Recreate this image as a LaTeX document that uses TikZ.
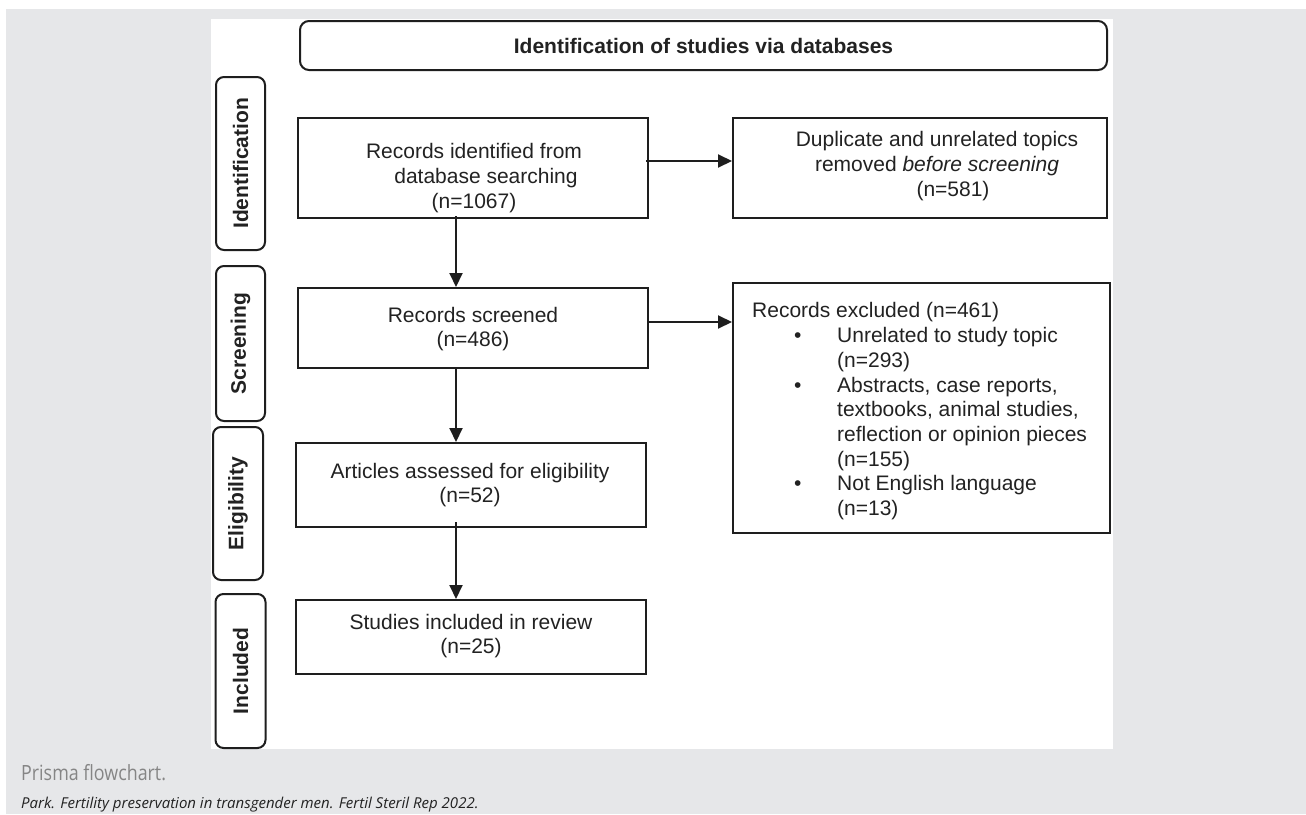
\documentclass[tikz,border=0pt]{standalone}
\usepackage{fontspec}
\setmainfont{Liberation Sans}
\newfontfamily\capfont[FakeStretch=0.85]{Open Sans}
\newfontfamily\capfontit{Open Sans}
\usetikzlibrary{arrows.meta}
\definecolor{bgc}{HTML}{E6E7E9}
\definecolor{linec}{HTML}{1E1E1E}
\definecolor{textc}{HTML}{222222}
\definecolor{capgray}{HTML}{858585}
\newcommand\pbul{\makebox[85pt][l]{\hspace{42pt}\textbullet}}
\newcommand\pind{\hspace*{85pt}}
\tikzset{
  stepbox/.style={draw=linec, line width=2pt, inner sep=0pt},
  sidebox/.style={draw=linec, line width=2pt, rounded corners=8pt, inner sep=0pt,
    font=\bfseries\fontsize{21}{24}\selectfont, text=textc},
  body/.style={font=\fontsize{21}{24.7}\selectfont, align=center, text=textc, inner sep=0pt},
  arr/.style={draw=linec, line width=2pt, -{Triangle[length=14pt,width=13pt]}}
}
\begin{document}
\begin{tikzpicture}[x=1pt,y=-1pt]
\useasboundingbox (0,0) rectangle (1306,814);
% background
\fill[white] (0,0) rectangle (1306,814);
\fill[bgc] (6,9) rectangle (1306,814);
\fill[white] (211,19) rectangle (1113,749);
% title
\node[sidebox, rounded corners=9pt, minimum width=807pt, minimum height=49pt] (T) at (703.5,45.5) {Identification of studies via databases};
% side labels
\node[sidebox, minimum width=49pt, minimum height=173pt] (SI) at (240.5,163.5) {\rotatebox{90}{Identification}};
\node[sidebox, minimum width=49pt, minimum height=155pt] (SS) at (240.5,343.5) {\rotatebox{90}{Screening}};
\node[sidebox, minimum width=50pt, minimum height=153pt] (SE) at (238,503.5) {\rotatebox{90}{Eligibility}};
\node[sidebox, minimum width=50pt, minimum height=154pt] (SN) at (240.5,671) {\rotatebox{90}{Included}};
% boxes
\node[stepbox, minimum width=350pt, minimum height=100pt] (A) at (473,168) {};
\node[stepbox, minimum width=374pt, minimum height=100pt] (B) at (920,168) {};
\node[stepbox, minimum width=350pt, minimum height=80pt] (C) at (473,328) {};
\node[stepbox, minimum width=350pt, minimum height=84pt] (D) at (471,485) {};
\node[stepbox, minimum width=350pt, minimum height=74pt] (E) at (471,637) {};
\node[stepbox, minimum width=377pt, minimum height=250pt] (F) at (921.5,408) {};
% box texts
\node[body] (tA) at (474,178) {Records identified from\\\hspace*{24pt}database searching\\(n=1067)};
\node[body] (tB) at (937,166) {Duplicate and unrelated topics\\removed \textit{before screening}\\\hspace*{32pt}(n=581)};
\node[body] (tC) at (473,329) {Records screened\\(n=486)};
\node[body] (tD) at (470,485) {Articles assessed for eligibility\\(n=52)};
\node[body] (tE) at (471,636) {Studies included in review\\(n=25)};
\node[body, align=left, anchor=north west] (tF) at (752,302.5) {Records excluded (n=461)\\
\pbul Unrelated to study topic\\
\pind (n=293)\\
\pbul Abstracts, case reports,\\
\pind textbooks, animal studies,\\
\pind reflection or opinion pieces\\
\pind (n=155)\\
\pbul Not English language\\
\pind (n=13)};
% connectors
\coordinate (ax) at (456,0);
\coordinate (ay) at (0,161);
\coordinate (cy) at (0,322);
\draw[arr] ([xshift=-3pt]A.east |- ay) -- (B.west |- ay);
\draw[arr] (C.east |- cy) -- (F.west |- cy);
\draw[arr] ([yshift=3pt]A.south -| ax) -- (C.north -| ax);
\draw[arr] ([yshift=2pt]C.south -| ax) -- (D.north -| ax);
\draw[arr] ([yshift=6pt]D.south -| ax) -- (E.north -| ax);
% caption
\node[anchor=base west, inner sep=0pt, font=\capfont\fontsize{21}{21}\selectfont, text=capgray] (cap1) at (21,780) {Prisma flowchart.};
\node[anchor=base west, inner sep=0pt, font=\capfontit\itshape\fontsize{15}{15}\selectfont, text=textc] (cap2) at (21,808) {Park. Fertility preservation in transgender men. Fertil Steril Rep 2022.};
\end{tikzpicture}
\end{document}
